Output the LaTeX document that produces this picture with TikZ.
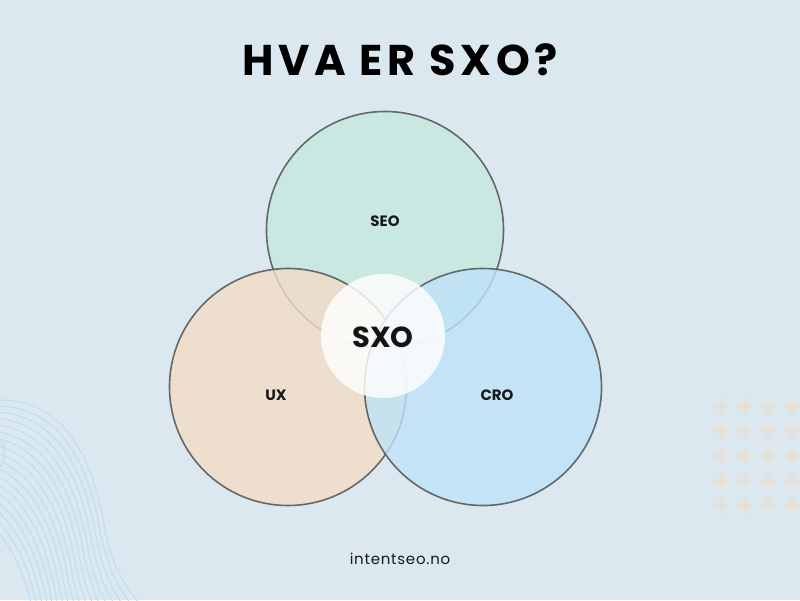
\documentclass[tikz,border=0pt]{standalone}
\usepackage{fontspec}
\setmainfont{Poppins}
\definecolor{bg}{HTML}{DCE8F0}
\definecolor{seoc}{HTML}{C4E8DE}
\definecolor{uxc}{HTML}{F2DCC6}
\definecolor{croc}{HTML}{BEE2F8}
\definecolor{edge}{HTML}{5A5A5A}
\definecolor{wave}{HTML}{B8DCF6}
\definecolor{plusc}{HTML}{E8E0D4}
\begin{document}
\begin{tikzpicture}[x=1pt,y=-1pt,
  venn/.style={draw=edge, line width=1.6pt, fill opacity=0.8, draw opacity=0.9},
  lbl/.style={font=\bfseries\fontsize{15}{18}\selectfont, text=black!90},
  plusmark/.style={draw=plusc, line width=4pt}]
\useasboundingbox (0,0) rectangle (800,600);
\fill[bg] (0,0) rectangle (800,600);
% waves
\begin{scope}
\clip (0,0) rectangle (800,600);
\foreach \k in {0,...,17}{
  \draw[wave, line width=0.9pt] ({-4*\k},{400+6*\k}) .. controls ({60-4*\k},{400+6*\k}) and ({92-4*\k},{450+6*\k}) .. ({105-4*\k},{530+6*\k}) .. controls ({115-4*\k},{575+6*\k}) and ({128-4*\k},{590+6*\k}) .. ({145-4*\k},{610+6*\k});
}
\draw[wave, line width=0.9pt] (0,440) .. controls (6,445) and (6,462) .. (0,467);
\end{scope}
% plus signs
\foreach \px in {721,745,768,792}{
  \foreach \py in {406,431,456,481,506}{
    \draw[plusmark] (\px-8,\py) -- (\px+8,\py);
    \draw[plusmark] (\px,\py-8) -- (\px,\py+8);
  }
}
% title
\node[font=\bfseries\fontsize{43}{50}\selectfont\addfontfeatures{LetterSpace=11}, text=black] (title) at (400,60) {HVA ER SXO?};
% circles
\node[venn, circle, minimum size=237pt, fill=seoc] (seo) at (385,230) {};
\node[venn, circle, minimum size=237pt, fill=uxc] (ux) at (288,387) {};
\node[venn, circle, minimum size=237pt, fill=croc] (cro) at (483,387) {};
\node[circle, minimum size=124pt, fill=white, fill opacity=0.82] (sxo) at (383,336) {};
\node[lbl] (seol) at (385,221) {SEO};
\node[lbl] (uxl) at (276,395) {UX};
\node[lbl] (crol) at (497,395) {CRO};
\node[font=\bfseries\fontsize{29}{34}\selectfont, text=black!92] (sxol) at (383,337) {SXO};
\node[font=\fontsize{15}{18}\selectfont\addfontfeatures{LetterSpace=5}, text=black!90] (url) at (400,559) {intentseo.no};
\end{tikzpicture}
\end{document}
